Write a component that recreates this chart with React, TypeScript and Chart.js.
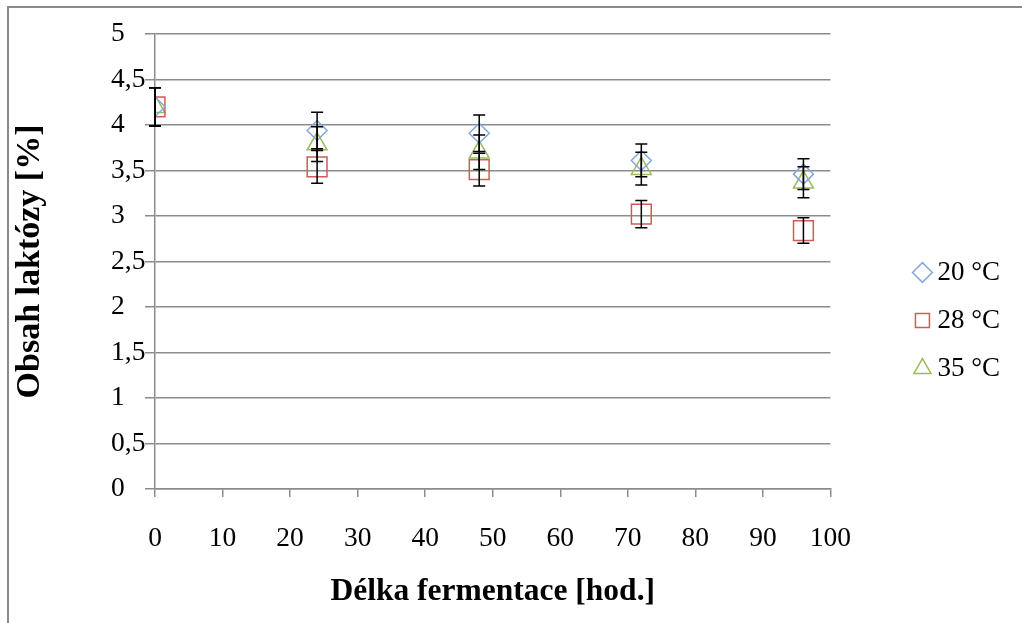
import React, { useEffect, useRef } from 'react';
import { Chart, registerables } from 'chart.js';

Chart.register(...registerables);

// ---- data ----
const hours = [0, 24, 48, 72, 96];
const seriesLabels = ['20 °C', '28 °C', '35 °C'];
const lactose20 = [4.2, 3.94, 3.91, 3.61, 3.46];
const lactose28 = [4.2, 3.54, 3.51, 3.02, 2.84];
const lactose35 = [4.2, 3.79, 3.7, 3.52, 3.37];
const error20 = [0.21, 0.2, 0.2, 0.18, 0.17];
const error28 = [0.21, 0.18, 0.18, 0.15, 0.14];
const error35 = [0.21, 0.19, 0.19, 0.18, 0.17];
const yTickLabels = ['0', '0,5', '1', '1,5', '2', '2,5', '3', '3,5', '4', '4,5', '5'];
const xTickLabels = ['0', '10', '20', '30', '40', '50', '60', '70', '80', '90', '100'];
const xTitle = 'Délka fermentace [hod.]';
const yTitle = 'Obsah laktózy [%]';

const FONT = "'Liberation Serif', 'Times New Roman', serif";
const GRID = '#8c8c8c';

const errorBarPlugin = {
  id: 'errorBars',
  afterDatasetsDraw(chart: any) {
    const { ctx } = chart;
    const x = chart.scales.x;
    const y = chart.scales.y;
    ctx.save();
    ctx.strokeStyle = '#000000';
    ctx.lineWidth = 1.5;
    chart.data.datasets.forEach((ds: any, di: number) => {
      const meta = chart.getDatasetMeta(di);
      if (meta.hidden || !ds.errors) return;
      ds.data.forEach((pt: any, i: number) => {
        const e = ds.errors[i];
        const px = x.getPixelForValue(pt.x);
        const top = y.getPixelForValue(pt.y + e);
        const bot = y.getPixelForValue(pt.y - e);
        ctx.beginPath();
        ctx.moveTo(px, top);
        ctx.lineTo(px, bot);
        ctx.moveTo(px - 6, top);
        ctx.lineTo(px + 6, top);
        ctx.moveTo(px - 6, bot);
        ctx.lineTo(px + 6, bot);
        ctx.stroke();
      });
    });
    ctx.restore();
  },
};

function toPoints(values: number[]) {
  return hours.map((h, i) => ({ x: h, y: values[i] }));
}

export default function App() {
  const canvasRef = useRef<HTMLCanvasElement | null>(null);

  useEffect(() => {
    if (!canvasRef.current) return;
    const chart = new Chart(canvasRef.current, {
      type: 'scatter',
      data: {
        datasets: [
          {
            label: seriesLabels[0],
            data: toPoints(lactose20),
            errors: error20,
            pointStyle: 'rectRot',
            pointRadius: 10,
            borderColor: '#84A9DA',
            backgroundColor: 'rgba(0,0,0,0)',
            borderWidth: 1.5,
          } as any,
          {
            label: seriesLabels[1],
            data: toPoints(lactose28),
            errors: error28,
            pointStyle: 'rect',
            pointRadius: 14,
            borderColor: '#D05B58',
            backgroundColor: 'rgba(0,0,0,0)',
            borderWidth: 1.5,
          } as any,
          {
            label: seriesLabels[2],
            data: toPoints(lactose35),
            errors: error35,
            pointStyle: 'triangle',
            pointRadius: 11.5,
            borderColor: '#9BBB59',
            backgroundColor: 'rgba(0,0,0,0)',
            borderWidth: 1.5,
          } as any,
        ],
      },
      options: {
        responsive: false,
        animation: false,
        layout: { padding: { top: 26, bottom: 16, left: 102, right: 12 } },
        plugins: {
          tooltip: { enabled: false },
          legend: {
            position: 'right',
            labels: {
              usePointStyle: true,
              boxWidth: 3,
              boxHeight: 14,
              padding: 21,
              color: '#000000',
              font: { family: FONT, size: 27 },
            },
          },
        },
        scales: {
          x: {
            type: 'linear',
            min: 0,
            max: 100,
            afterFit: (s: any) => {
              s.height = 118;
              s.paddingLeft = 0;
              s.paddingRight = 0;
            },
            ticks: {
              stepSize: 10,
              padding: 25,
              color: '#000000',
              font: { family: FONT, size: 27.5 },
              callback: (_v: any, i: number) => xTickLabels[i],
            },
            grid: { drawOnChartArea: false, drawTicks: true, tickLength: 8, color: GRID, lineWidth: 1.5 },
            border: { display: true, color: GRID, width: 1.5 },
            title: {
              display: true,
              text: xTitle,
              color: '#000000',
              font: { family: FONT, size: 31.5, weight: 'bold' },
              padding: { top: 0, bottom: -4 },
            },
          },
          y: {
            type: 'linear',
            min: 0,
            max: 5,
            afterFit: (s: any) => {
              s.width = 44;
              s.paddingTop = 0;
              s.paddingBottom = 0;
            },
            ticks: {
              stepSize: 0.5,
              crossAlign: 'far',
              color: '#000000',
              font: { family: FONT, size: 27.5 },
              callback: (_v: any, i: number) => yTickLabels[i],
            },
            grid: { color: GRID, lineWidth: 1.5, tickLength: 10, drawTicks: true },
            border: { display: true, color: GRID, width: 1.5 },
            title: {
              display: true,
              text: yTitle,
              color: '#000000',
              font: { family: FONT, size: 34, weight: 'bold' },
              padding: { top: -101.4, bottom: 0 },
            },
          },
          spacer: {
            type: 'linear',
            position: 'right',
            display: true,
            afterFit: (s: any) => {
              s.width = 69.5;
            },
            ticks: { display: false },
            grid: { display: false, drawTicks: false },
            border: { display: false },
          },
        },
      } as any,
      plugins: [errorBarPlugin],
    });
    return () => chart.destroy();
  }, []);

  return (
    <div
      style={{
        position: 'absolute',
        left: 7,
        top: 6,
        width: 1015,
        height: 617,
        boxSizing: 'border-box',
        borderLeft: '2px solid #8a8a8a',
        borderTop: '2px solid #8a8a8a',
        background: '#ffffff',
      }}
    >
      <canvas ref={canvasRef} width={1013} height={615} style={{ display: 'block' }} />
    </div>
  );
}
